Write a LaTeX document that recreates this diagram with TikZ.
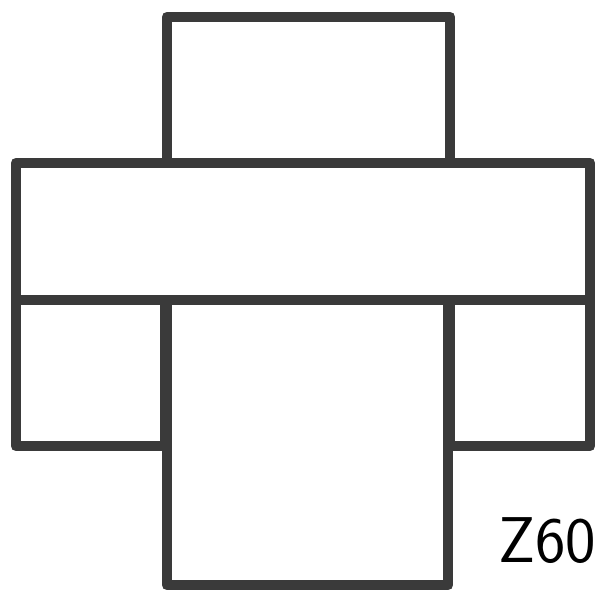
\documentclass[tikz,border=0pt]{standalone}
\usepackage{tikz}
\usetikzlibrary{positioning}

\definecolor{ink}{HTML}{3A3A3A}

\begin{document}
\begin{tikzpicture}[
  x=0.025cm, y=-0.025cm,
  blk/.style={draw=ink,line width=0.27cm,line join=round,line cap=round},
  tag/.style={font=\fontsize{46}{46}\selectfont\sffamily,text=black}
]
  \useasboundingbox (0,0) rectangle (602,596);
  % boxes
  \draw[blk] (167,17) rectangle (450,163);
  \draw[blk] (16,163) rectangle (590,300);
  \draw[blk] (16,300) rectangle (165,446);
  \draw[blk] (450,300) rectangle (590,446);
  \draw[blk] (167,300) rectangle (448,585);
  \node[tag] (lbl) at (547,541) {Z60};
\end{tikzpicture}
\end{document}
